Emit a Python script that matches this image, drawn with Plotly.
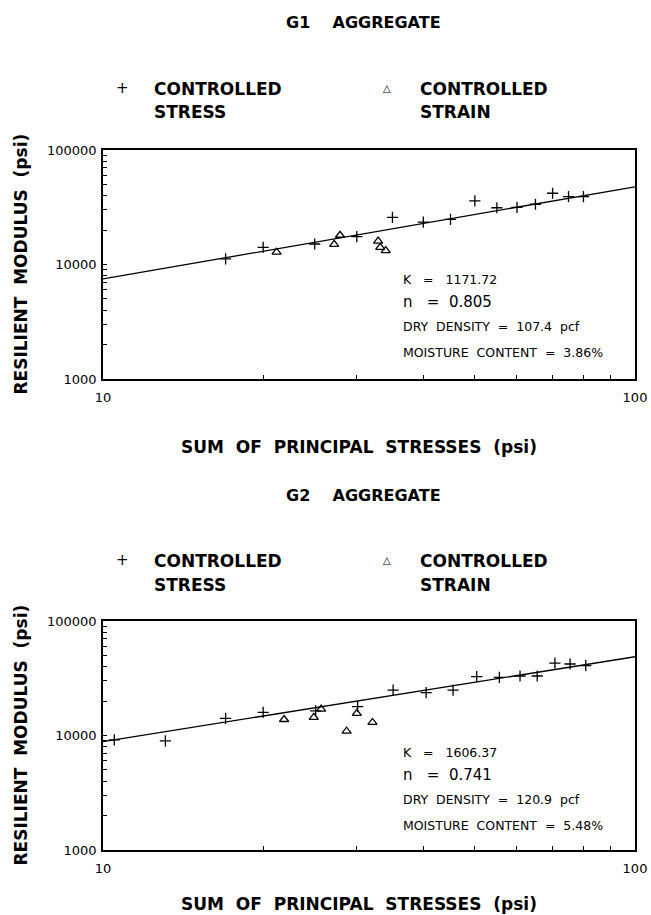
import plotly.graph_objects as go

W, H = 651, 915
FONT = "DejaVu Sans"
NB = "\u00a0"

# ---- G1 aggregate: sum of principal stresses (psi) vs resilient modulus (psi)
g1_stress_x = [17, 20, 25, 30, 35, 40, 45, 50, 55, 60, 65, 70, 75, 80]
g1_stress_y = [11200, 14100, 15100, 17500, 25800, 23400, 24800, 35900,
               31300, 31500, 33600, 41900, 39100, 39100]
g1_strain_x = [21.2, 27.2, 27.9, 32.9, 33.2, 34.0]
g1_strain_y = [12800, 15000, 18000, 16000, 14100, 13200]
g1_K, g1_n = 1171.72, 0.805
g1_density, g1_moisture = 107.4, 3.86

# ---- G2 aggregate
g2_stress_x = [10.5, 13.1, 17, 20, 25.1, 30.1, 35.1, 40.5, 45.5, 50.4,
               55.6, 60.8, 65.5, 70.7, 75.5, 80.8]
g2_stress_y = [9140, 8960, 14100, 15900, 16400, 17900, 24900, 23700,
               24900, 32700, 32200, 33100, 33100, 42800, 42100, 40700]
g2_strain_x = [21.9, 24.9, 25.7, 28.7, 30.0, 32.1]
g2_strain_y = [13800, 14400, 17000, 10900, 15600, 13000]
g2_K, g2_n = 1606.37, 0.741
g2_density, g2_moisture = 120.9, 5.48

# axis ticks (labels only on the decades)
x_ticks = [10, 20, 30, 40, 50, 60, 70, 80, 90, 100]
x_labels = ["10"] + [""] * 8 + ["100"]
y_ticks = [m * 10 ** e for e in (3, 4) for m in range(1, 10)] + [100000]
y_labels = ["1000"] + [""] * 8 + ["10000"] + [""] * 8 + ["100000"]
fit_x = [10, 100]


def px(x, y):
    """pixel position -> paper fraction"""
    return x / W, 1 - y / H


panels = [
    dict(name="G1", sx=g1_stress_x, sy=g1_stress_y, tx=g1_strain_x, ty=g1_strain_y,
         K=g1_K, n=g1_n, dens=g1_density, moist=g1_moisture,
         top=150, bot=379, title_y=23, leg_y=(89, 112), xt_y=447,
         txt_y=(279, 302, 326, 352)),
    dict(name="G2", sx=g2_stress_x, sy=g2_stress_y, tx=g2_strain_x, ty=g2_strain_y,
         K=g2_K, n=g2_n, dens=g2_density, moist=g2_moisture,
         top=621, bot=850, title_y=495, leg_y=(561, 585), xt_y=904,
         txt_y=(752, 775, 799, 825)),
]

LEFT, RIGHT = 103, 635

fig = go.Figure()
annotations = []
layout_axes = {}

for i, p in enumerate(panels, start=1):
    xa = "x" if i == 1 else f"x{i}"
    ya = "y" if i == 1 else f"y{i}"

    fit_y = [p["K"] * v ** p["n"] for v in fit_x]
    fig.add_trace(go.Scatter(x=fit_x, y=fit_y, mode="lines", xaxis=xa, yaxis=ya,
                             line=dict(color="black", width=1.3), showlegend=False))
    fig.add_trace(go.Scatter(x=p["sx"], y=p["sy"], mode="markers", xaxis=xa, yaxis=ya,
                             marker=dict(symbol="cross-thin-open", size=8, color="black",
                                         line=dict(color="black", width=1.3)),
                             showlegend=False))
    fig.add_trace(go.Scatter(x=p["tx"], y=p["ty"], mode="markers", xaxis=xa, yaxis=ya,
                             marker=dict(symbol="triangle-up-open", size=8, color="black",
                                         line=dict(color="black", width=1.3)),
                             showlegend=False))

    y0 = 1 - p["bot"] / H
    y1 = 1 - p["top"] / H
    common = dict(showline=True, linecolor="black", linewidth=1.5, mirror=True,
                  showgrid=False, zeroline=False, ticks="inside", ticklen=4,
                  tickwidth=1, tickcolor="black", tickmode="array", automargin=False,
                  tickfont=dict(family=FONT, size=13, color="black"))
    layout_axes["xaxis" if i == 1 else f"xaxis{i}"] = dict(
        type="log", range=[1, 2], domain=[LEFT / W, RIGHT / W], anchor=ya,
        tickvals=x_ticks, ticktext=x_labels, ticklabelstandoff=6, **common)
    layout_axes["yaxis" if i == 1 else f"yaxis{i}"] = dict(
        type="log", range=[3, 5], domain=[y0, y1], anchor=xa,
        tickvals=y_ticks, ticktext=y_labels, ticklabelstandoff=2, **common)

    # panel title
    tx, ty = px(363, p["title_y"])
    annotations.append(dict(text=f"{p['name']}{NB*4}AGGREGATE", x=tx, y=ty,
                            font=dict(family=FONT, size=16, color="black", weight="bold")))

    # symbol key
    for sym, sx_, sz, lab_x, line2 in (("+", 122, 15, 152, "STRESS"),
                                      ("\u25b3", 387, 10, 418, "STRAIN")):
        a, b = px(sx_, p["leg_y"][0] - 1)
        annotations.append(dict(text=sym, x=a, y=b,
                                font=dict(family=FONT, size=sz, color="black")))
        for txt, yy in (("CONTROLLED", p["leg_y"][0]), (line2, p["leg_y"][1])):
            a, b = px(lab_x, yy)
            annotations.append(dict(text=txt, x=a, y=b, xanchor="left",
                                    font=dict(family=FONT, size=17, color="black",
                                              weight="bold")))

    # axis titles
    a, b = px(20, (p["top"] + p["bot"]) / 2)
    annotations.append(dict(text=f"RESILIENT{NB*2}MODULUS{NB*2}(psi)", x=a, y=b,
                            textangle=-90,
                            font=dict(family=FONT, size=17, color="black", weight="bold")))
    a, b = px(359, p["xt_y"])
    annotations.append(dict(text=f"SUM{NB*2}OF{NB*2}PRINCIPAL{NB*2}STRESSES{NB*2}(psi)",
                            x=a, y=b,
                            font=dict(family=FONT, size=17, color="black", weight="bold")))

    # model constants
    lines = [
        (f"K{NB*3}={NB*3}{p['K']:.2f}", 12.5),
        (f"n{NB*3}={NB*2}{p['n']:.3f}", 15),
        (f"DRY{NB*2}DENSITY{NB*2}={NB*2}{p['dens']:.1f}{NB*2}pcf", 12.5),
        (f"MOISTURE{NB*2}CONTENT{NB*2}={NB*2}{p['moist']:.2f}%", 12.5),
    ]
    for (txt, sz), yy in zip(lines, p["txt_y"]):
        a, b = px(401, yy)
        annotations.append(dict(text=txt, x=a, y=b, xanchor="left",
                                font=dict(family=FONT, size=sz, color="black")))

for an in annotations:
    an.update(xref="paper", yref="paper", showarrow=False, yanchor="middle")
    an.setdefault("xanchor", "center")

fig.update_layout(width=W, height=H, margin=dict(l=0, r=0, t=0, b=0),
                  paper_bgcolor="white", plot_bgcolor="white",
                  showlegend=False, annotations=annotations, **layout_axes)

fig.write_html("out.html")
